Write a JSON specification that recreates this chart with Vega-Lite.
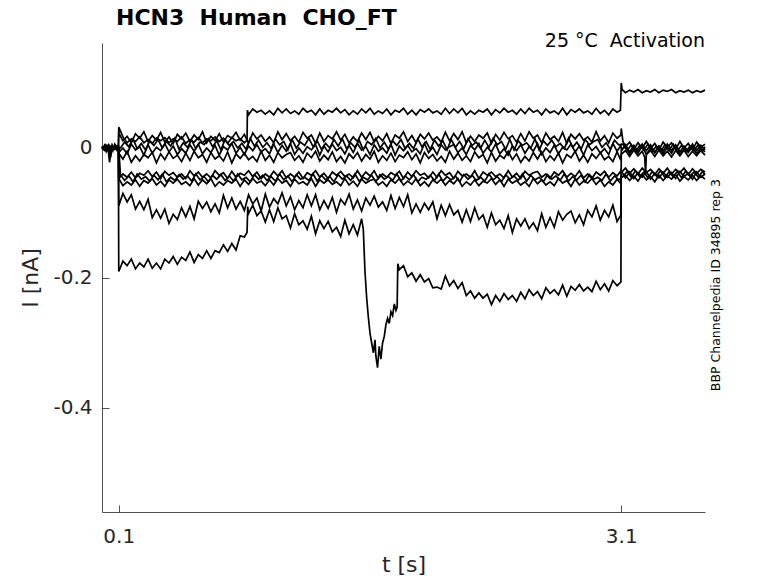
{
  "$schema": "https://vega.github.io/schema/vega-lite/v6.json",
  "width": 603,
  "height": 469,
  "autosize": {"type": "none"},
  "padding": {"left": 102, "top": 43, "right": 73, "bottom": 71},
  "background": "white",
  "title": {
    "text": "HCN3\u00a0 Human\u00a0 CHO_FT",
    "anchor": "start",
    "frame": "group",
    "dx": 14,
    "offset": 2,
    "baseline": "top",
    "font": "DejaVu Sans",
    "fontSize": 22,
    "fontWeight": "bold",
    "color": "#000000"
  },
  "datasets": {
    "a": [
      {"t":0,"v":0.002},{"t":0.02,"v":-0.004},{"t":0.04,"v":0.005},{"t":0.06,"v":-0.003},{"t":0.08,"v":0.004},{"t":0.098,"v":0.001},
      {"t":0.1,"v":0.032},{"t":0.125,"v":0.017},{"t":0.15,"v":0.008},{"t":0.175,"v":0.014},{"t":0.2,"v":0.010},{"t":0.225,"v":0.017},{"t":0.25,"v":0.008},{"t":0.275,"v":0.013},{"t":0.3,"v":0.007},{"t":0.325,"v":0.015},{"t":0.35,"v":0.011},{"t":0.375,"v":0.016},{"t":0.4,"v":0.008},{"t":0.425,"v":0.014},{"t":0.45,"v":0.010},{"t":0.475,"v":0.017},{"t":0.5,"v":0.007},{"t":0.525,"v":0.013},{"t":0.55,"v":0.009},{"t":0.575,"v":0.016},{"t":0.6,"v":0.008},{"t":0.625,"v":0.014},{"t":0.65,"v":0.011},{"t":0.675,"v":0.017},{"t":0.7,"v":0.010},{"t":0.725,"v":0.015},{"t":0.75,"v":0.007},{"t":0.775,"v":0.016},{"t":0.8,"v":0.011},{"t":0.825,"v":0.014},{"t":0.85,"v":0.008},{"t":0.866,"v":0.012},
      {"t":0.868,"v":0.058},{"t":0.875,"v":0.051},{"t":0.9,"v":0.060},{"t":0.925,"v":0.055},{"t":0.95,"v":0.058},{"t":0.975,"v":0.052},{"t":1.0,"v":0.057},{"t":1.025,"v":0.051},{"t":1.05,"v":0.061},{"t":1.075,"v":0.054},{"t":1.1,"v":0.060},{"t":1.125,"v":0.053},{"t":1.15,"v":0.057},{"t":1.175,"v":0.052},{"t":1.2,"v":0.061},{"t":1.225,"v":0.055},{"t":1.25,"v":0.058},{"t":1.275,"v":0.051},{"t":1.3,"v":0.060},{"t":1.325,"v":0.052},{"t":1.35,"v":0.058},{"t":1.375,"v":0.055},{"t":1.4,"v":0.061},{"t":1.425,"v":0.054},{"t":1.45,"v":0.059},{"t":1.475,"v":0.051},{"t":1.5,"v":0.057},{"t":1.525,"v":0.052},{"t":1.55,"v":0.060},{"t":1.575,"v":0.054},{"t":1.6,"v":0.061},{"t":1.625,"v":0.052},{"t":1.65,"v":0.057},{"t":1.675,"v":0.053},{"t":1.7,"v":0.060},{"t":1.725,"v":0.051},{"t":1.75,"v":0.058},{"t":1.775,"v":0.055},{"t":1.8,"v":0.061},{"t":1.825,"v":0.052},{"t":1.85,"v":0.058},{"t":1.875,"v":0.051},{"t":1.9,"v":0.059},{"t":1.925,"v":0.055},{"t":1.95,"v":0.060},{"t":1.975,"v":0.054},{"t":2.0,"v":0.057},{"t":2.025,"v":0.052},{"t":2.05,"v":0.061},{"t":2.075,"v":0.053},{"t":2.1,"v":0.060},{"t":2.125,"v":0.054},{"t":2.15,"v":0.061},{"t":2.175,"v":0.051},{"t":2.2,"v":0.057},{"t":2.225,"v":0.052},{"t":2.25,"v":0.058},{"t":2.275,"v":0.055},{"t":2.3,"v":0.060},{"t":2.325,"v":0.051},{"t":2.35,"v":0.059},{"t":2.375,"v":0.054},{"t":2.4,"v":0.061},{"t":2.425,"v":0.055},{"t":2.45,"v":0.058},{"t":2.475,"v":0.052},{"t":2.5,"v":0.060},{"t":2.525,"v":0.053},{"t":2.55,"v":0.061},{"t":2.575,"v":0.055},{"t":2.6,"v":0.058},{"t":2.625,"v":0.051},{"t":2.65,"v":0.060},{"t":2.675,"v":0.054},{"t":2.7,"v":0.057},{"t":2.725,"v":0.052},{"t":2.75,"v":0.061},{"t":2.775,"v":0.051},{"t":2.8,"v":0.059},{"t":2.825,"v":0.055},{"t":2.85,"v":0.060},{"t":2.875,"v":0.054},{"t":2.9,"v":0.057},{"t":2.925,"v":0.052},{"t":2.95,"v":0.061},{"t":2.975,"v":0.053},{"t":3.0,"v":0.058},{"t":3.025,"v":0.051},{"t":3.05,"v":0.060},{"t":3.075,"v":0.055},{"t":3.095,"v":0.058},
      {"t":3.1,"v":0.1},{"t":3.105,"v":0.09},{"t":3.125,"v":0.085},{"t":3.15,"v":0.089},{"t":3.175,"v":0.086},{"t":3.2,"v":0.09},{"t":3.225,"v":0.085},{"t":3.25,"v":0.088},{"t":3.275,"v":0.086},{"t":3.3,"v":0.09},{"t":3.325,"v":0.085},{"t":3.35,"v":0.089},{"t":3.375,"v":0.087},{"t":3.4,"v":0.09},{"t":3.425,"v":0.085},{"t":3.45,"v":0.088},{"t":3.475,"v":0.086},{"t":3.5,"v":0.089},{"t":3.525,"v":0.085},{"t":3.55,"v":0.088},{"t":3.575,"v":0.086},{"t":3.6,"v":0.089}
    ],
    "b": [
      {"t":0,"v":0.003},{"t":0.01,"v":-0.002},{"t":0.02,"v":0.004},{"t":0.03,"v":-0.003},{"t":0.04,"v":0.002},{"t":0.05,"v":-0.004},{"t":0.06,"v":0.005},{"t":0.07,"v":-0.001},{"t":0.08,"v":0.004},{"t":0.09,"v":-0.003},{"t":0.098,"v":0.001},
      {"t":0.1,"v":0.023},{"t":0.125,"v":0.011},{"t":0.15,"v":0.018},{"t":0.175,"v":0.008},{"t":0.2,"v":0.022},{"t":0.225,"v":0.015},{"t":0.25,"v":0.025},{"t":0.275,"v":0.010},{"t":0.3,"v":0.019},{"t":0.325,"v":0.012},{"t":0.35,"v":0.024},{"t":0.375,"v":0.009},{"t":0.4,"v":0.017},{"t":0.425,"v":0.007},{"t":0.45,"v":0.021},{"t":0.475,"v":0.014},{"t":0.5,"v":0.023},{"t":0.525,"v":0.010},{"t":0.55,"v":0.020},{"t":0.575,"v":0.013},{"t":0.6,"v":0.025},{"t":0.625,"v":0.008},{"t":0.65,"v":0.018},{"t":0.675,"v":0.011},{"t":0.7,"v":0.022},{"t":0.725,"v":0.009},{"t":0.75,"v":0.019},{"t":0.775,"v":0.015},{"t":0.8,"v":0.024},{"t":0.825,"v":0.012},{"t":0.85,"v":0.021},{"t":0.875,"v":0.007},{"t":0.9,"v":0.023},{"t":0.925,"v":0.014},{"t":0.95,"v":0.020},{"t":0.975,"v":0.010},{"t":1.0,"v":0.017},{"t":1.025,"v":0.008},{"t":1.05,"v":0.025},{"t":1.075,"v":0.013},{"t":1.1,"v":0.022},{"t":1.125,"v":0.011},{"t":1.15,"v":0.018},{"t":1.175,"v":0.009},{"t":1.2,"v":0.024},{"t":1.225,"v":0.015},{"t":1.25,"v":0.020},{"t":1.275,"v":0.007},{"t":1.3,"v":0.023},{"t":1.325,"v":0.010},{"t":1.35,"v":0.019},{"t":1.375,"v":0.014},{"t":1.4,"v":0.025},{"t":1.425,"v":0.012},{"t":1.45,"v":0.021},{"t":1.475,"v":0.008},{"t":1.5,"v":0.017},{"t":1.525,"v":0.010},{"t":1.55,"v":0.023},{"t":1.575,"v":0.013},{"t":1.6,"v":0.024},{"t":1.625,"v":0.009},{"t":1.65,"v":0.018},{"t":1.675,"v":0.011},{"t":1.7,"v":0.022},{"t":1.725,"v":0.007},{"t":1.75,"v":0.020},{"t":1.775,"v":0.015},{"t":1.8,"v":0.025},{"t":1.825,"v":0.010},{"t":1.85,"v":0.019},{"t":1.875,"v":0.008},{"t":1.9,"v":0.021},{"t":1.925,"v":0.014},{"t":1.95,"v":0.023},{"t":1.975,"v":0.012},{"t":2.0,"v":0.017},{"t":2.025,"v":0.009},{"t":2.05,"v":0.024},{"t":2.075,"v":0.011},{"t":2.1,"v":0.022},{"t":2.125,"v":0.013},{"t":2.15,"v":0.025},{"t":2.175,"v":0.008},{"t":2.2,"v":0.018},{"t":2.225,"v":0.010},{"t":2.25,"v":0.020},{"t":2.275,"v":0.015},{"t":2.3,"v":0.023},{"t":2.325,"v":0.007},{"t":2.35,"v":0.021},{"t":2.375,"v":0.012},{"t":2.4,"v":0.024},{"t":2.425,"v":0.014},{"t":2.45,"v":0.019},{"t":2.475,"v":0.009},{"t":2.5,"v":0.022},{"t":2.525,"v":0.011},{"t":2.55,"v":0.025},{"t":2.575,"v":0.015},{"t":2.6,"v":0.020},{"t":2.625,"v":0.008},{"t":2.65,"v":0.023},{"t":2.675,"v":0.013},{"t":2.7,"v":0.018},{"t":2.725,"v":0.010},{"t":2.75,"v":0.024},{"t":2.775,"v":0.007},{"t":2.8,"v":0.021},{"t":2.825,"v":0.014},{"t":2.85,"v":0.022},{"t":2.875,"v":0.012},{"t":2.9,"v":0.017},{"t":2.925,"v":0.009},{"t":2.95,"v":0.025},{"t":2.975,"v":0.011},{"t":3.0,"v":0.019},{"t":3.025,"v":0.008},{"t":3.05,"v":0.023},{"t":3.075,"v":0.015},{"t":3.098,"v":0.020},
      {"t":3.1,"v":0.03},{"t":3.11,"v":0.01},{"t":3.125,"v":0.002},{"t":3.15,"v":0.009},{"t":3.175,"v":-0.002},{"t":3.2,"v":0.008},{"t":3.225,"v":0.0},{"t":3.25,"v":0.01},{"t":3.275,"v":-0.001},{"t":3.3,"v":0.007},{"t":3.325,"v":-0.003},{"t":3.35,"v":0.009},{"t":3.375,"v":0.001},{"t":3.4,"v":0.008},{"t":3.425,"v":-0.002},{"t":3.45,"v":0.01},{"t":3.475,"v":0.0},{"t":3.5,"v":0.007},{"t":3.525,"v":-0.003},{"t":3.55,"v":0.009},{"t":3.575,"v":0.001},{"t":3.6,"v":0.006}
    ],
    "c": [
      {"t":0,"v":-0.002},{"t":0.015,"v":0.004},{"t":0.025,"v":-0.005},{"t":0.035,"v":0.003},{"t":0.045,"v":-0.022},{"t":0.05,"v":-0.012},{"t":0.055,"v":0.001},{"t":0.065,"v":-0.004},{"t":0.075,"v":0.005},{"t":0.085,"v":-0.002},{"t":0.095,"v":0.003},{"t":0.099,"v":0.0},
      {"t":0.1,"v":-0.007},{"t":0.125,"v":0.000},{"t":0.15,"v":-0.009},{"t":0.175,"v":0.006},{"t":0.2,"v":-0.003},{"t":0.225,"v":0.002},{"t":0.25,"v":-0.011},{"t":0.275,"v":0.005},{"t":0.3,"v":-0.008},{"t":0.325,"v":0.001},{"t":0.35,"v":-0.004},{"t":0.375,"v":0.007},{"t":0.4,"v":-0.006},{"t":0.425,"v":0.003},{"t":0.45,"v":-0.010},{"t":0.475,"v":-0.001},{"t":0.5,"v":-0.008},{"t":0.525,"v":0.005},{"t":0.55,"v":-0.005},{"t":0.575,"v":0.006},{"t":0.6,"v":-0.009},{"t":0.625,"v":0.000},{"t":0.65,"v":-0.007},{"t":0.675,"v":0.004},{"t":0.7,"v":-0.011},{"t":0.725,"v":0.002},{"t":0.75,"v":-0.003},{"t":0.775,"v":0.007},{"t":0.8,"v":-0.008},{"t":0.825,"v":0.001},{"t":0.85,"v":-0.010},{"t":0.875,"v":0.003},{"t":0.9,"v":-0.004},{"t":0.925,"v":0.005},{"t":0.95,"v":-0.006},{"t":0.975,"v":-0.001},{"t":1.0,"v":-0.009},{"t":1.025,"v":0.006},{"t":1.05,"v":-0.007},{"t":1.075,"v":0.004},{"t":1.1,"v":-0.005},{"t":1.125,"v":0.007},{"t":1.15,"v":-0.010},{"t":1.175,"v":0.000},{"t":1.2,"v":-0.008},{"t":1.225,"v":0.002},{"t":1.25,"v":-0.003},{"t":1.275,"v":0.005},{"t":1.3,"v":-0.011},{"t":1.325,"v":0.003},{"t":1.35,"v":-0.006},{"t":1.375,"v":0.006},{"t":1.4,"v":-0.004},{"t":1.425,"v":0.001},{"t":1.45,"v":-0.009},{"t":1.475,"v":0.004},{"t":1.5,"v":-0.007},{"t":1.525,"v":0.007},{"t":1.55,"v":-0.003},{"t":1.575,"v":0.002},{"t":1.6,"v":-0.010},{"t":1.625,"v":0.005},{"t":1.65,"v":-0.005},{"t":1.675,"v":0.000},{"t":1.7,"v":-0.008},{"t":1.725,"v":0.006},{"t":1.75,"v":-0.011},{"t":1.775,"v":0.003},{"t":1.8,"v":-0.004},{"t":1.825,"v":0.004},{"t":1.85,"v":-0.006},{"t":1.875,"v":-0.001},{"t":1.9,"v":-0.009},{"t":1.925,"v":0.007},{"t":1.95,"v":-0.007},{"t":1.975,"v":0.001},{"t":2.0,"v":-0.010},{"t":2.025,"v":0.005},{"t":2.05,"v":-0.003},{"t":2.075,"v":0.002},{"t":2.1,"v":0.005},{"t":2.125,"v":-0.007},{"t":2.15,"v":0.000},{"t":2.175,"v":-0.010},{"t":2.2,"v":0.004},{"t":2.225,"v":-0.003},{"t":2.25,"v":0.007},{"t":2.275,"v":-0.008},{"t":2.3,"v":0.001},{"t":2.325,"v":-0.006},{"t":2.35,"v":0.006},{"t":2.375,"v":-0.009},{"t":2.4,"v":-0.001},{"t":2.425,"v":-0.011},{"t":2.45,"v":0.003},{"t":2.475,"v":-0.004},{"t":2.5,"v":0.005},{"t":2.525,"v":-0.008},{"t":2.55,"v":0.002},{"t":2.575,"v":-0.005},{"t":2.6,"v":0.007},{"t":2.625,"v":-0.010},{"t":2.65,"v":0.000},{"t":2.675,"v":-0.007},{"t":2.7,"v":0.004},{"t":2.725,"v":-0.009},{"t":2.75,"v":0.001},{"t":2.775,"v":-0.003},{"t":2.8,"v":0.006},{"t":2.825,"v":-0.006},{"t":2.85,"v":0.003},{"t":2.875,"v":-0.011},{"t":2.9,"v":0.005},{"t":2.925,"v":-0.004},{"t":2.95,"v":0.002},{"t":2.975,"v":-0.008},{"t":3.0,"v":-0.001},{"t":3.025,"v":-0.010},{"t":3.05,"v":0.007},{"t":3.075,"v":-0.005},{"t":3.098,"v":0.004},
      {"t":3.1,"v":-0.002},{"t":3.125,"v":0.002},{"t":3.15,"v":-0.009},{"t":3.175,"v":0.001},{"t":3.2,"v":-0.008},{"t":3.225,"v":0.003},{"t":3.25,"v":-0.01},{"t":3.275,"v":0.0},{"t":3.3,"v":-0.007},{"t":3.325,"v":0.002},{"t":3.35,"v":-0.009},{"t":3.375,"v":0.001},{"t":3.4,"v":-0.008},{"t":3.425,"v":0.003},{"t":3.45,"v":-0.01},{"t":3.475,"v":-0.001},{"t":3.5,"v":-0.007},{"t":3.525,"v":0.002},{"t":3.55,"v":-0.009},{"t":3.575,"v":0.0},{"t":3.6,"v":-0.006}
    ],
    "d": [
      {"t":0,"v":0.001},{"t":0.02,"v":-0.003},{"t":0.04,"v":0.003},{"t":0.06,"v":-0.002},{"t":0.08,"v":0.002},{"t":0.098,"v":-0.001},
      {"t":0.1,"v":-0.008},{"t":0.125,"v":-0.017},{"t":0.15,"v":-0.005},{"t":0.175,"v":-0.022},{"t":0.2,"v":-0.012},{"t":0.225,"v":-0.020},{"t":0.25,"v":-0.010},{"t":0.275,"v":-0.015},{"t":0.3,"v":-0.007},{"t":0.325,"v":-0.023},{"t":0.35,"v":-0.009},{"t":0.375,"v":-0.018},{"t":0.4,"v":-0.006},{"t":0.425,"v":-0.016},{"t":0.45,"v":-0.011},{"t":0.475,"v":-0.021},{"t":0.5,"v":-0.008},{"t":0.525,"v":-0.019},{"t":0.55,"v":-0.005},{"t":0.575,"v":-0.015},{"t":0.6,"v":-0.010},{"t":0.625,"v":-0.022},{"t":0.65,"v":-0.007},{"t":0.675,"v":-0.017},{"t":0.7,"v":-0.012},{"t":0.725,"v":-0.020},{"t":0.75,"v":-0.006},{"t":0.775,"v":-0.023},{"t":0.8,"v":-0.009},{"t":0.825,"v":-0.016},{"t":0.85,"v":-0.008},{"t":0.875,"v":-0.018},{"t":0.9,"v":-0.013},{"t":0.925,"v":-0.021},{"t":0.95,"v":-0.005},{"t":0.975,"v":-0.019},{"t":1.0,"v":-0.011},{"t":1.025,"v":-0.022},{"t":1.05,"v":-0.007},{"t":1.075,"v":-0.015},{"t":1.1,"v":-0.010},{"t":1.125,"v":-0.007},{"t":1.15,"v":-0.019},{"t":1.175,"v":-0.012},{"t":1.2,"v":-0.022},{"t":1.225,"v":-0.008},{"t":1.25,"v":-0.015},{"t":1.275,"v":-0.005},{"t":1.3,"v":-0.020},{"t":1.325,"v":-0.011},{"t":1.35,"v":-0.018},{"t":1.375,"v":-0.006},{"t":1.4,"v":-0.021},{"t":1.425,"v":-0.013},{"t":1.45,"v":-0.023},{"t":1.475,"v":-0.009},{"t":1.5,"v":-0.016},{"t":1.525,"v":-0.007},{"t":1.55,"v":-0.020},{"t":1.575,"v":-0.010},{"t":1.6,"v":-0.017},{"t":1.625,"v":-0.005},{"t":1.65,"v":-0.022},{"t":1.675,"v":-0.012},{"t":1.7,"v":-0.019},{"t":1.725,"v":-0.008},{"t":1.75,"v":-0.021},{"t":1.775,"v":-0.011},{"t":1.8,"v":-0.015},{"t":1.825,"v":-0.006},{"t":1.85,"v":-0.018},{"t":1.875,"v":-0.009},{"t":1.9,"v":-0.023},{"t":1.925,"v":-0.007},{"t":1.95,"v":-0.016},{"t":1.975,"v":-0.010},{"t":2.0,"v":-0.020},{"t":2.025,"v":-0.013},{"t":2.05,"v":-0.022},{"t":2.075,"v":-0.005},{"t":2.1,"v":-0.017},{"t":2.125,"v":-0.008},{"t":2.15,"v":-0.019},{"t":2.175,"v":-0.012},{"t":2.2,"v":-0.021},{"t":2.225,"v":-0.006},{"t":2.25,"v":-0.015},{"t":2.275,"v":-0.010},{"t":2.3,"v":-0.023},{"t":2.325,"v":-0.007},{"t":2.35,"v":-0.020},{"t":2.375,"v":-0.011},{"t":2.4,"v":-0.016},{"t":2.425,"v":-0.005},{"t":2.45,"v":-0.018},{"t":2.475,"v":-0.009},{"t":2.5,"v":-0.022},{"t":2.525,"v":-0.013},{"t":2.55,"v":-0.020},{"t":2.575,"v":-0.007},{"t":2.6,"v":-0.017},{"t":2.625,"v":-0.006},{"t":2.65,"v":-0.021},{"t":2.675,"v":-0.012},{"t":2.7,"v":-0.019},{"t":2.725,"v":-0.008},{"t":2.75,"v":-0.023},{"t":2.775,"v":-0.010},{"t":2.8,"v":-0.015},{"t":2.825,"v":-0.005},{"t":2.85,"v":-0.020},{"t":2.875,"v":-0.011},{"t":2.9,"v":-0.022},{"t":2.925,"v":-0.009},{"t":2.95,"v":-0.016},{"t":2.975,"v":-0.007},{"t":3.0,"v":-0.018},{"t":3.025,"v":-0.013},{"t":3.05,"v":-0.021},{"t":3.075,"v":-0.006},{"t":3.098,"v":-0.019},
      {"t":3.1,"v":-0.01},{"t":3.125,"v":-0.004},{"t":3.15,"v":-0.013},{"t":3.175,"v":-0.003},{"t":3.2,"v":-0.012},{"t":3.225,"v":-0.005},{"t":3.24,"v":-0.014},{"t":3.245,"v":-0.04},{"t":3.25,"v":-0.01},{"t":3.275,"v":-0.004},{"t":3.3,"v":-0.013},{"t":3.325,"v":-0.003},{"t":3.35,"v":-0.012},{"t":3.375,"v":-0.005},{"t":3.4,"v":-0.014},{"t":3.425,"v":-0.004},{"t":3.45,"v":-0.012},{"t":3.475,"v":-0.003},{"t":3.5,"v":-0.013},{"t":3.525,"v":-0.005},{"t":3.55,"v":-0.012},{"t":3.575,"v":-0.004},{"t":3.6,"v":-0.011}
    ],
    "e": [
      {"t":0,"v":-0.001},{"t":0.03,"v":0.003},{"t":0.06,"v":-0.003},{"t":0.09,"v":0.002},{"t":0.099,"v":0.0},
      {"t":0.1,"v":-0.047},{"t":0.125,"v":-0.040},{"t":0.15,"v":-0.045},{"t":0.175,"v":-0.037},{"t":0.2,"v":-0.046},{"t":0.225,"v":-0.039},{"t":0.25,"v":-0.042},{"t":0.275,"v":-0.035},{"t":0.3,"v":-0.044},{"t":0.325,"v":-0.037},{"t":0.35,"v":-0.047},{"t":0.375,"v":-0.036},{"t":0.4,"v":-0.042},{"t":0.425,"v":-0.038},{"t":0.45,"v":-0.045},{"t":0.475,"v":-0.040},{"t":0.5,"v":-0.047},{"t":0.525,"v":-0.035},{"t":0.55,"v":-0.043},{"t":0.575,"v":-0.037},{"t":0.6,"v":-0.045},{"t":0.625,"v":-0.040},{"t":0.65,"v":-0.046},{"t":0.675,"v":-0.035},{"t":0.7,"v":-0.042},{"t":0.725,"v":-0.038},{"t":0.75,"v":-0.047},{"t":0.775,"v":-0.036},{"t":0.8,"v":-0.045},{"t":0.825,"v":-0.039},{"t":0.85,"v":-0.042},{"t":0.875,"v":-0.035},{"t":0.9,"v":-0.044},{"t":0.925,"v":-0.037},{"t":0.95,"v":-0.047},{"t":0.975,"v":-0.040},{"t":1.0,"v":-0.045},{"t":1.025,"v":-0.036},{"t":1.05,"v":-0.043},{"t":1.075,"v":-0.035},{"t":1.1,"v":-0.046},{"t":1.125,"v":-0.040},{"t":1.15,"v":-0.045},{"t":1.175,"v":-0.037},{"t":1.2,"v":-0.047},{"t":1.225,"v":-0.038},{"t":1.25,"v":-0.042},{"t":1.275,"v":-0.035},{"t":1.3,"v":-0.045},{"t":1.325,"v":-0.039},{"t":1.35,"v":-0.047},{"t":1.375,"v":-0.037},{"t":1.4,"v":-0.042},{"t":1.425,"v":-0.036},{"t":1.45,"v":-0.044},{"t":1.475,"v":-0.040},{"t":1.5,"v":-0.046},{"t":1.525,"v":-0.035},{"t":1.55,"v":-0.045},{"t":1.575,"v":-0.037},{"t":1.6,"v":-0.043},{"t":1.625,"v":-0.035},{"t":1.65,"v":-0.047},{"t":1.675,"v":-0.040},{"t":1.7,"v":-0.045},{"t":1.725,"v":-0.038},{"t":1.75,"v":-0.042},{"t":1.775,"v":-0.036},{"t":1.8,"v":-0.047},{"t":1.825,"v":-0.037},{"t":1.85,"v":-0.044},{"t":1.875,"v":-0.035},{"t":1.9,"v":-0.042},{"t":1.925,"v":-0.039},{"t":1.95,"v":-0.046},{"t":1.975,"v":-0.037},{"t":2.0,"v":-0.045},{"t":2.025,"v":-0.035},{"t":2.05,"v":-0.042},{"t":2.075,"v":-0.038},{"t":2.1,"v":-0.047},{"t":2.125,"v":-0.036},{"t":2.15,"v":-0.043},{"t":2.175,"v":-0.040},{"t":2.2,"v":-0.045},{"t":2.225,"v":-0.035},{"t":2.25,"v":-0.047},{"t":2.275,"v":-0.037},{"t":2.3,"v":-0.042},{"t":2.325,"v":-0.037},{"t":2.35,"v":-0.044},{"t":2.375,"v":-0.040},{"t":2.4,"v":-0.046},{"t":2.425,"v":-0.035},{"t":2.45,"v":-0.045},{"t":2.475,"v":-0.039},{"t":2.5,"v":-0.047},{"t":2.525,"v":-0.036},{"t":2.55,"v":-0.042},{"t":2.575,"v":-0.038},{"t":2.6,"v":-0.036},{"t":2.625,"v":-0.045},{"t":2.65,"v":-0.040},{"t":2.675,"v":-0.047},{"t":2.7,"v":-0.037},{"t":2.725,"v":-0.042},{"t":2.75,"v":-0.035},{"t":2.775,"v":-0.045},{"t":2.8,"v":-0.039},{"t":2.825,"v":-0.044},{"t":2.85,"v":-0.035},{"t":2.875,"v":-0.046},{"t":2.9,"v":-0.040},{"t":2.925,"v":-0.047},{"t":2.95,"v":-0.037},{"t":2.975,"v":-0.042},{"t":3.0,"v":-0.036},{"t":3.025,"v":-0.045},{"t":3.05,"v":-0.038},{"t":3.075,"v":-0.043},{"t":3.098,"v":-0.035},
      {"t":3.1,"v":-0.038},{"t":3.125,"v":-0.031},{"t":3.15,"v":-0.039},{"t":3.175,"v":-0.032},{"t":3.2,"v":-0.04},{"t":3.225,"v":-0.031},{"t":3.25,"v":-0.038},{"t":3.275,"v":-0.033},{"t":3.3,"v":-0.041},{"t":3.325,"v":-0.032},{"t":3.35,"v":-0.039},{"t":3.375,"v":-0.031},{"t":3.4,"v":-0.04},{"t":3.425,"v":-0.033},{"t":3.45,"v":-0.038},{"t":3.475,"v":-0.031},{"t":3.5,"v":-0.041},{"t":3.525,"v":-0.032},{"t":3.55,"v":-0.039},{"t":3.575,"v":-0.033},{"t":3.6,"v":-0.037}
    ],
    "f": [
      {"t":0,"v":0.002},{"t":0.03,"v":-0.003},{"t":0.06,"v":0.002},{"t":0.09,"v":-0.002},{"t":0.098,"v":0.001},
      {"t":0.1,"v":-0.047},{"t":0.125,"v":-0.058},{"t":0.15,"v":-0.052},{"t":0.175,"v":-0.057},{"t":0.2,"v":-0.049},{"t":0.225,"v":-0.059},{"t":0.25,"v":-0.050},{"t":0.275,"v":-0.054},{"t":0.3,"v":-0.047},{"t":0.325,"v":-0.057},{"t":0.35,"v":-0.051},{"t":0.375,"v":-0.059},{"t":0.4,"v":-0.049},{"t":0.425,"v":-0.054},{"t":0.45,"v":-0.048},{"t":0.475,"v":-0.056},{"t":0.5,"v":-0.052},{"t":0.525,"v":-0.058},{"t":0.55,"v":-0.047},{"t":0.575,"v":-0.057},{"t":0.6,"v":-0.049},{"t":0.625,"v":-0.055},{"t":0.65,"v":-0.047},{"t":0.675,"v":-0.059},{"t":0.7,"v":-0.052},{"t":0.725,"v":-0.057},{"t":0.75,"v":-0.050},{"t":0.775,"v":-0.054},{"t":0.8,"v":-0.048},{"t":0.825,"v":-0.059},{"t":0.85,"v":-0.049},{"t":0.875,"v":-0.056},{"t":0.9,"v":-0.047},{"t":0.925,"v":-0.054},{"t":0.95,"v":-0.051},{"t":0.975,"v":-0.058},{"t":1.0,"v":-0.049},{"t":1.025,"v":-0.057},{"t":1.05,"v":-0.047},{"t":1.075,"v":-0.054},{"t":1.1,"v":-0.050},{"t":1.125,"v":-0.059},{"t":1.15,"v":-0.048},{"t":1.175,"v":-0.055},{"t":1.2,"v":-0.052},{"t":1.225,"v":-0.057},{"t":1.25,"v":-0.047},{"t":1.275,"v":-0.059},{"t":1.3,"v":-0.049},{"t":1.325,"v":-0.054},{"t":1.35,"v":-0.049},{"t":1.375,"v":-0.056},{"t":1.4,"v":-0.052},{"t":1.425,"v":-0.058},{"t":1.45,"v":-0.047},{"t":1.475,"v":-0.057},{"t":1.5,"v":-0.051},{"t":1.525,"v":-0.059},{"t":1.55,"v":-0.048},{"t":1.575,"v":-0.054},{"t":1.6,"v":-0.050},{"t":1.625,"v":-0.048},{"t":1.65,"v":-0.057},{"t":1.675,"v":-0.052},{"t":1.7,"v":-0.059},{"t":1.725,"v":-0.049},{"t":1.75,"v":-0.054},{"t":1.775,"v":-0.047},{"t":1.8,"v":-0.057},{"t":1.825,"v":-0.051},{"t":1.85,"v":-0.056},{"t":1.875,"v":-0.047},{"t":1.9,"v":-0.058},{"t":1.925,"v":-0.052},{"t":1.95,"v":-0.059},{"t":1.975,"v":-0.049},{"t":2.0,"v":-0.054},{"t":2.025,"v":-0.048},{"t":2.05,"v":-0.057},{"t":2.075,"v":-0.050},{"t":2.1,"v":-0.055},{"t":2.125,"v":-0.047},{"t":2.15,"v":-0.059},{"t":2.175,"v":-0.052},{"t":2.2,"v":-0.057},{"t":2.225,"v":-0.049},{"t":2.25,"v":-0.058},{"t":2.275,"v":-0.051},{"t":2.3,"v":-0.054},{"t":2.325,"v":-0.047},{"t":2.35,"v":-0.056},{"t":2.375,"v":-0.049},{"t":2.4,"v":-0.059},{"t":2.425,"v":-0.048},{"t":2.45,"v":-0.054},{"t":2.475,"v":-0.050},{"t":2.5,"v":-0.057},{"t":2.525,"v":-0.052},{"t":2.55,"v":-0.059},{"t":2.575,"v":-0.047},{"t":2.6,"v":-0.055},{"t":2.625,"v":-0.049},{"t":2.65,"v":-0.057},{"t":2.675,"v":-0.052},{"t":2.7,"v":-0.058},{"t":2.725,"v":-0.047},{"t":2.75,"v":-0.054},{"t":2.775,"v":-0.050},{"t":2.8,"v":-0.059},{"t":2.825,"v":-0.048},{"t":2.85,"v":-0.057},{"t":2.875,"v":-0.051},{"t":2.9,"v":-0.054},{"t":2.925,"v":-0.047},{"t":2.95,"v":-0.056},{"t":2.975,"v":-0.049},{"t":3.0,"v":-0.059},{"t":3.025,"v":-0.052},{"t":3.05,"v":-0.057},{"t":3.075,"v":-0.048},{"t":3.098,"v":-0.055},
      {"t":3.1,"v":-0.045},{"t":3.125,"v":-0.042},{"t":3.15,"v":-0.05},{"t":3.175,"v":-0.043},{"t":3.2,"v":-0.051},{"t":3.225,"v":-0.041},{"t":3.25,"v":-0.049},{"t":3.275,"v":-0.044},{"t":3.3,"v":-0.052},{"t":3.325,"v":-0.042},{"t":3.35,"v":-0.05},{"t":3.375,"v":-0.043},{"t":3.4,"v":-0.048},{"t":3.425,"v":-0.041},{"t":3.45,"v":-0.051},{"t":3.475,"v":-0.044},{"t":3.5,"v":-0.049},{"t":3.525,"v":-0.042},{"t":3.55,"v":-0.05},{"t":3.575,"v":-0.043},{"t":3.6,"v":-0.048}
    ],
    "g": [
      {"t":0,"v":0.0},{"t":0.025,"v":0.003},{"t":0.05,"v":-0.004},{"t":0.075,"v":0.002},{"t":0.098,"v":-0.002},
      {"t":0.1,"v":-0.089},{"t":0.125,"v":-0.070},{"t":0.15,"v":-0.083},{"t":0.175,"v":-0.072},{"t":0.2,"v":-0.094},{"t":0.225,"v":-0.082},{"t":0.25,"v":-0.095},{"t":0.275,"v":-0.079},{"t":0.3,"v":-0.107},{"t":0.325,"v":-0.095},{"t":0.35,"v":-0.108},{"t":0.375,"v":-0.094},{"t":0.4,"v":-0.116},{"t":0.425,"v":-0.102},{"t":0.45,"v":-0.110},{"t":0.475,"v":-0.092},{"t":0.5,"v":-0.106},{"t":0.525,"v":-0.090},{"t":0.55,"v":-0.109},{"t":0.575,"v":-0.082},{"t":0.6,"v":-0.093},{"t":0.625,"v":-0.083},{"t":0.65,"v":-0.098},{"t":0.675,"v":-0.086},{"t":0.7,"v":-0.100},{"t":0.725,"v":-0.073},{"t":0.75,"v":-0.092},{"t":0.775,"v":-0.077},{"t":0.8,"v":-0.094},{"t":0.825,"v":-0.082},{"t":0.85,"v":-0.096},{"t":0.875,"v":-0.072},{"t":0.9,"v":-0.086},{"t":0.925,"v":-0.077},{"t":0.95,"v":-0.097},{"t":0.975,"v":-0.071},{"t":1.0,"v":-0.091},{"t":1.025,"v":-0.078},{"t":1.05,"v":-0.086},{"t":1.075,"v":-0.069},{"t":1.1,"v":-0.089},{"t":1.125,"v":-0.075},{"t":1.15,"v":-0.095},{"t":1.175,"v":-0.081},{"t":1.2,"v":-0.092},{"t":1.225,"v":-0.072},{"t":1.25,"v":-0.089},{"t":1.275,"v":-0.072},{"t":1.3,"v":-0.095},{"t":1.325,"v":-0.081},{"t":1.35,"v":-0.093},{"t":1.375,"v":-0.076},{"t":1.4,"v":-0.099},{"t":1.425,"v":-0.079},{"t":1.45,"v":-0.087},{"t":1.475,"v":-0.071},{"t":1.5,"v":-0.094},{"t":1.525,"v":-0.080},{"t":1.55,"v":-0.097},{"t":1.575,"v":-0.077},{"t":1.6,"v":-0.088},{"t":1.625,"v":-0.074},{"t":1.65,"v":-0.091},{"t":1.675,"v":-0.083},{"t":1.7,"v":-0.096},{"t":1.725,"v":-0.073},{"t":1.75,"v":-0.093},{"t":1.775,"v":-0.076},{"t":1.8,"v":-0.090},{"t":1.825,"v":-0.072},{"t":1.85,"v":-0.100},{"t":1.875,"v":-0.086},{"t":1.9,"v":-0.099},{"t":1.925,"v":-0.085},{"t":1.95,"v":-0.095},{"t":1.975,"v":-0.083},{"t":2.0,"v":-0.109},{"t":2.025,"v":-0.088},{"t":2.05,"v":-0.104},{"t":2.075,"v":-0.087},{"t":2.1,"v":-0.103},{"t":2.125,"v":-0.096},{"t":2.15,"v":-0.114},{"t":2.175,"v":-0.095},{"t":2.2,"v":-0.113},{"t":2.225,"v":-0.092},{"t":2.25,"v":-0.110},{"t":2.275,"v":-0.103},{"t":2.3,"v":-0.122},{"t":2.325,"v":-0.100},{"t":2.35,"v":-0.118},{"t":2.375,"v":-0.111},{"t":2.4,"v":-0.124},{"t":2.425,"v":-0.104},{"t":2.45,"v":-0.130},{"t":2.475,"v":-0.109},{"t":2.5,"v":-0.120},{"t":2.525,"v":-0.109},{"t":2.55,"v":-0.124},{"t":2.575,"v":-0.115},{"t":2.6,"v":-0.127},{"t":2.625,"v":-0.101},{"t":2.65,"v":-0.122},{"t":2.675,"v":-0.107},{"t":2.7,"v":-0.122},{"t":2.725,"v":-0.098},{"t":2.75,"v":-0.111},{"t":2.775,"v":-0.102},{"t":2.8,"v":-0.097},{"t":2.825,"v":-0.115},{"t":2.85,"v":-0.103},{"t":2.875,"v":-0.118},{"t":2.9,"v":-0.096},{"t":2.925,"v":-0.106},{"t":2.95,"v":-0.089},{"t":2.975,"v":-0.111},{"t":3.0,"v":-0.096},{"t":3.025,"v":-0.106},{"t":3.05,"v":-0.088},{"t":3.075,"v":-0.113},{"t":3.098,"v":-0.103},
      {"t":3.1,"v":-0.035},{"t":3.125,"v":-0.046},{"t":3.15,"v":-0.037},{"t":3.175,"v":-0.047},{"t":3.2,"v":-0.038},{"t":3.225,"v":-0.045},{"t":3.25,"v":-0.036},{"t":3.275,"v":-0.048},{"t":3.3,"v":-0.039},{"t":3.325,"v":-0.046},{"t":3.35,"v":-0.037},{"t":3.375,"v":-0.045},{"t":3.4,"v":-0.038},{"t":3.425,"v":-0.047},{"t":3.45,"v":-0.036},{"t":3.475,"v":-0.044},{"t":3.5,"v":-0.039},{"t":3.525,"v":-0.048},{"t":3.55,"v":-0.037},{"t":3.575,"v":-0.045},{"t":3.6,"v":-0.04}
    ],
    "h": [
      {"t":0,"v":-0.001},{"t":0.025,"v":0.004},{"t":0.04,"v":-0.006},{"t":0.05,"v":-0.015},{"t":0.06,"v":-0.003},{"t":0.08,"v":0.003},{"t":0.098,"v":0.0},
      {"t":0.1,"v":-0.19},{"t":0.125,"v":-0.174},{"t":0.15,"v":-0.181},{"t":0.175,"v":-0.171},{"t":0.2,"v":-0.186},{"t":0.225,"v":-0.177},{"t":0.25,"v":-0.183},{"t":0.275,"v":-0.171},{"t":0.3,"v":-0.185},{"t":0.325,"v":-0.177},{"t":0.35,"v":-0.186},{"t":0.375,"v":-0.171},{"t":0.4,"v":-0.177},{"t":0.425,"v":-0.167},{"t":0.45,"v":-0.179},{"t":0.475,"v":-0.168},{"t":0.5,"v":-0.173},{"t":0.525,"v":-0.160},{"t":0.55,"v":-0.176},{"t":0.575,"v":-0.164},{"t":0.6,"v":-0.170},{"t":0.625,"v":-0.158},{"t":0.65,"v":-0.170},{"t":0.675,"v":-0.158},{"t":0.7,"v":-0.161},{"t":0.725,"v":-0.149},{"t":0.75,"v":-0.159},{"t":0.775,"v":-0.147},{"t":0.8,"v":-0.157},{"t":0.825,"v":-0.135},{"t":0.85,"v":-0.137},{"t":0.866,"v":-0.13},
      {"t":0.87,"v":-0.09},{"t":0.875,"v":-0.101},{"t":0.9,"v":-0.088},{"t":0.925,"v":-0.104},{"t":0.95,"v":-0.097},{"t":0.975,"v":-0.114},{"t":1.0,"v":-0.095},{"t":1.025,"v":-0.113},{"t":1.05,"v":-0.092},{"t":1.075,"v":-0.109},{"t":1.1,"v":-0.104},{"t":1.125,"v":-0.123},{"t":1.15,"v":-0.101},{"t":1.175,"v":-0.118},{"t":1.2,"v":-0.112},{"t":1.225,"v":-0.125},{"t":1.25,"v":-0.105},{"t":1.275,"v":-0.132},{"t":1.3,"v":-0.112},{"t":1.325,"v":-0.124},{"t":1.35,"v":-0.113},{"t":1.375,"v":-0.129},{"t":1.4,"v":-0.122},{"t":1.425,"v":-0.136},{"t":1.45,"v":-0.111},{"t":1.475,"v":-0.132},{"t":1.5,"v":-0.118},{"t":1.525,"v":-0.134},{"t":1.55,"v":-0.109},
      {"t":1.56,"v":-0.125},{"t":1.57,"v":-0.19},{"t":1.58,"v":-0.23},{"t":1.59,"v":-0.26},{"t":1.6,"v":-0.285},{"t":1.61,"v":-0.3},{"t":1.62,"v":-0.315},{"t":1.63,"v":-0.295},{"t":1.635,"v":-0.32},{"t":1.645,"v":-0.338},{"t":1.655,"v":-0.305},{"t":1.665,"v":-0.325},{"t":1.675,"v":-0.3},{"t":1.685,"v":-0.29},{"t":1.695,"v":-0.272},{"t":1.705,"v":-0.262},{"t":1.715,"v":-0.27},{"t":1.725,"v":-0.252},{"t":1.735,"v":-0.258},{"t":1.745,"v":-0.24},{"t":1.755,"v":-0.25},{"t":1.762,"v":-0.245},{"t":1.766,"v":-0.178},
      {"t":1.775,"v":-0.187},{"t":1.8,"v":-0.181},{"t":1.825,"v":-0.198},{"t":1.85,"v":-0.192},{"t":1.875,"v":-0.205},{"t":1.9,"v":-0.195},{"t":1.925,"v":-0.206},{"t":1.95,"v":-0.201},{"t":1.975,"v":-0.215},{"t":2.0,"v":-0.214},{"t":2.025,"v":-0.217},{"t":2.05,"v":-0.197},{"t":2.075,"v":-0.212},{"t":2.1,"v":-0.204},{"t":2.125,"v":-0.216},{"t":2.15,"v":-0.207},{"t":2.175,"v":-0.227},{"t":2.2,"v":-0.220},{"t":2.225,"v":-0.231},{"t":2.25,"v":-0.223},{"t":2.275,"v":-0.231},{"t":2.3,"v":-0.225},{"t":2.325,"v":-0.241},{"t":2.35,"v":-0.227},{"t":2.375,"v":-0.236},{"t":2.4,"v":-0.224},{"t":2.425,"v":-0.233},{"t":2.45,"v":-0.227},{"t":2.475,"v":-0.236},{"t":2.5,"v":-0.222},{"t":2.525,"v":-0.232},{"t":2.55,"v":-0.218},{"t":2.575,"v":-0.227},{"t":2.6,"v":-0.221},{"t":2.625,"v":-0.232},{"t":2.65,"v":-0.215},{"t":2.675,"v":-0.224},{"t":2.7,"v":-0.218},{"t":2.725,"v":-0.226},{"t":2.75,"v":-0.211},{"t":2.775,"v":-0.228},{"t":2.8,"v":-0.213},{"t":2.825,"v":-0.219},{"t":2.85,"v":-0.210},{"t":2.875,"v":-0.220},{"t":2.9,"v":-0.214},{"t":2.925,"v":-0.221},{"t":2.95,"v":-0.205},{"t":2.975,"v":-0.218},{"t":3.0,"v":-0.209},{"t":3.025,"v":-0.220},{"t":3.05,"v":-0.204},{"t":3.075,"v":-0.212},{"t":3.098,"v":-0.206},
      {"t":3.1,"v":-0.005},{"t":3.125,"v":0.005},{"t":3.15,"v":-0.006},{"t":3.175,"v":0.004},{"t":3.2,"v":-0.005},{"t":3.225,"v":0.006},{"t":3.25,"v":-0.004},{"t":3.275,"v":0.005},{"t":3.3,"v":-0.007},{"t":3.325,"v":0.003},{"t":3.35,"v":-0.005},{"t":3.375,"v":0.006},{"t":3.4,"v":-0.004},{"t":3.425,"v":0.005},{"t":3.45,"v":-0.006},{"t":3.475,"v":0.003},{"t":3.5,"v":-0.005},{"t":3.525,"v":0.006},{"t":3.55,"v":-0.004},{"t":3.575,"v":0.004},{"t":3.6,"v":-0.003}
    ],
    "i": [
      {"t":0.005,"v":0.002},{"t":0.015,"v":-0.003},{"t":0.03,"v":0.003},{"t":0.045,"v":-0.008},{"t":0.06,"v":0.002},{"t":0.075,"v":-0.002},{"t":0.09,"v":0.003},{"t":0.099,"v":0.0},
      {"t":0.11,"v":0.000},{"t":0.135,"v":0.009},{"t":0.16,"v":0.002},{"t":0.185,"v":0.014},{"t":0.21,"v":-0.001},{"t":0.235,"v":0.007},{"t":0.26,"v":-0.003},{"t":0.285,"v":0.011},{"t":0.31,"v":0.004},{"t":0.335,"v":0.013},{"t":0.36,"v":0.000},{"t":0.385,"v":0.010},{"t":0.41,"v":0.003},{"t":0.435,"v":0.015},{"t":0.46,"v":-0.002},{"t":0.485,"v":0.008},{"t":0.51,"v":0.001},{"t":0.535,"v":0.012},{"t":0.56,"v":-0.001},{"t":0.585,"v":0.009},{"t":0.61,"v":0.005},{"t":0.635,"v":0.014},{"t":0.66,"v":0.002},{"t":0.685,"v":0.011},{"t":0.71,"v":-0.003},{"t":0.735,"v":0.013},{"t":0.76,"v":0.004},{"t":0.785,"v":0.010},{"t":0.81,"v":0.000},{"t":0.835,"v":0.007},{"t":0.86,"v":-0.002},{"t":0.885,"v":0.015},{"t":0.91,"v":0.003},{"t":0.935,"v":0.012},{"t":0.96,"v":0.001},{"t":0.985,"v":0.008},{"t":1.01,"v":-0.001},{"t":1.035,"v":0.014},{"t":1.06,"v":0.005},{"t":1.085,"v":0.010},{"t":1.11,"v":-0.003},{"t":1.135,"v":0.013},{"t":1.16,"v":0.000},{"t":1.185,"v":0.009},{"t":1.21,"v":0.004},{"t":1.235,"v":0.015},{"t":1.26,"v":0.002},{"t":1.285,"v":0.011},{"t":1.31,"v":-0.002},{"t":1.335,"v":0.007},{"t":1.36,"v":0.000},{"t":1.385,"v":0.013},{"t":1.41,"v":0.003},{"t":1.435,"v":0.014},{"t":1.46,"v":-0.001},{"t":1.485,"v":0.008},{"t":1.51,"v":0.001},{"t":1.535,"v":0.012},{"t":1.56,"v":-0.003},{"t":1.585,"v":0.010},{"t":1.61,"v":0.005},{"t":1.635,"v":0.015},{"t":1.66,"v":0.000},{"t":1.685,"v":0.009},{"t":1.71,"v":-0.002},{"t":1.735,"v":0.011},{"t":1.76,"v":0.004},{"t":1.785,"v":0.013},{"t":1.81,"v":-0.001},{"t":1.835,"v":0.007},{"t":1.86,"v":-0.001},{"t":1.885,"v":0.014},{"t":1.91,"v":0.002},{"t":1.935,"v":0.010},{"t":1.96,"v":-0.002},{"t":1.985,"v":0.012},{"t":2.01,"v":0.003},{"t":2.035,"v":0.011},{"t":2.06,"v":-0.003},{"t":2.085,"v":0.013},{"t":2.11,"v":0.001},{"t":2.135,"v":0.010},{"t":2.16,"v":-0.001},{"t":2.185,"v":0.014},{"t":2.21,"v":0.004},{"t":2.235,"v":0.009},{"t":2.26,"v":-0.001},{"t":2.285,"v":0.012},{"t":2.31,"v":0.001},{"t":2.335,"v":0.015},{"t":2.36,"v":0.005},{"t":2.385,"v":0.010},{"t":2.41,"v":-0.002},{"t":2.435,"v":0.013},{"t":2.46,"v":-0.003},{"t":2.485,"v":0.011},{"t":2.51,"v":0.004},{"t":2.535,"v":0.008},{"t":2.56,"v":0.000},{"t":2.585,"v":0.014},{"t":2.61,"v":-0.003},{"t":2.635,"v":0.011},{"t":2.66,"v":0.004},{"t":2.685,"v":0.012},{"t":2.71,"v":0.002},{"t":2.735,"v":0.007},{"t":2.76,"v":-0.001},{"t":2.785,"v":0.015},{"t":2.81,"v":0.001},{"t":2.835,"v":0.009},{"t":2.86,"v":-0.002},{"t":2.885,"v":0.013},{"t":2.91,"v":0.005},{"t":2.935,"v":0.010},{"t":2.96,"v":0.013},{"t":2.985,"v":0.001},{"t":3.01,"v":0.008},{"t":3.035,"v":-0.002},{"t":3.06,"v":0.012},{"t":3.085,"v":0.005},
      {"t":3.11,"v":0.006},{"t":3.135,"v":-0.004},{"t":3.16,"v":0.005},{"t":3.185,"v":-0.006},{"t":3.21,"v":0.004},{"t":3.235,"v":-0.003},{"t":3.26,"v":0.006},{"t":3.285,"v":-0.005},{"t":3.31,"v":0.003},{"t":3.335,"v":-0.006},{"t":3.36,"v":0.005},{"t":3.385,"v":-0.004},{"t":3.41,"v":0.006},{"t":3.435,"v":-0.005},{"t":3.46,"v":0.004},{"t":3.485,"v":-0.006},{"t":3.51,"v":0.003},{"t":3.535,"v":-0.004},{"t":3.56,"v":0.005},{"t":3.585,"v":-0.005},{"t":3.6,"v":0.002}
    ],
    "j": [
      {"t":0.005,"v":-0.002},{"t":0.02,"v":0.003},{"t":0.035,"v":-0.003},{"t":0.05,"v":0.002},{"t":0.065,"v":-0.002},{"t":0.08,"v":0.003},{"t":0.095,"v":-0.001},{"t":0.1,"v":0.0},
      {"t":0.11,"v":-0.041},{"t":0.135,"v":-0.050},{"t":0.16,"v":-0.043},{"t":0.185,"v":-0.052},{"t":0.21,"v":-0.040},{"t":0.235,"v":-0.048},{"t":0.26,"v":-0.044},{"t":0.285,"v":-0.051},{"t":0.31,"v":-0.042},{"t":0.335,"v":-0.049},{"t":0.36,"v":-0.040},{"t":0.385,"v":-0.052},{"t":0.41,"v":-0.045},{"t":0.435,"v":-0.050},{"t":0.46,"v":-0.041},{"t":0.485,"v":-0.048},{"t":0.51,"v":-0.043},{"t":0.535,"v":-0.051},{"t":0.56,"v":-0.040},{"t":0.585,"v":-0.049},{"t":0.61,"v":-0.044},{"t":0.635,"v":-0.052},{"t":0.66,"v":-0.042},{"t":0.685,"v":-0.048},{"t":0.71,"v":-0.041},{"t":0.735,"v":-0.050},{"t":0.76,"v":-0.043},{"t":0.785,"v":-0.051},{"t":0.81,"v":-0.040},{"t":0.835,"v":-0.049},{"t":0.86,"v":-0.045},{"t":0.885,"v":-0.052},{"t":0.91,"v":-0.041},{"t":0.935,"v":-0.048},{"t":0.96,"v":-0.042},{"t":0.985,"v":-0.050},{"t":1.01,"v":-0.044},{"t":1.035,"v":-0.051},{"t":1.06,"v":-0.040},{"t":1.085,"v":-0.049},{"t":1.11,"v":-0.043},{"t":1.135,"v":-0.052},{"t":1.16,"v":-0.041},{"t":1.185,"v":-0.048},{"t":1.21,"v":-0.045},{"t":1.235,"v":-0.050},{"t":1.26,"v":-0.040},{"t":1.285,"v":-0.051},{"t":1.31,"v":-0.042},{"t":1.335,"v":-0.049},{"t":1.36,"v":-0.044},{"t":1.385,"v":-0.052},{"t":1.41,"v":-0.041},{"t":1.435,"v":-0.048},{"t":1.46,"v":-0.043},{"t":1.485,"v":-0.050},{"t":1.51,"v":-0.040},{"t":1.535,"v":-0.051},{"t":1.56,"v":-0.045},{"t":1.585,"v":-0.049},{"t":1.61,"v":-0.042},{"t":1.635,"v":-0.052},{"t":1.66,"v":-0.041},{"t":1.685,"v":-0.048},{"t":1.71,"v":-0.044},{"t":1.735,"v":-0.050},{"t":1.76,"v":-0.040},{"t":1.785,"v":-0.051},{"t":1.81,"v":-0.043},{"t":1.835,"v":-0.049},{"t":1.86,"v":-0.041},{"t":1.885,"v":-0.052},{"t":1.91,"v":-0.045},{"t":1.935,"v":-0.048},{"t":1.96,"v":-0.042},{"t":1.985,"v":-0.050},{"t":2.01,"v":-0.040},{"t":2.035,"v":-0.051},{"t":2.06,"v":-0.044},{"t":2.085,"v":-0.049},{"t":2.11,"v":-0.043},{"t":2.135,"v":-0.052},{"t":2.16,"v":-0.041},{"t":2.185,"v":-0.048},{"t":2.21,"v":-0.042},{"t":2.235,"v":-0.050},{"t":2.26,"v":-0.045},{"t":2.285,"v":-0.051},{"t":2.31,"v":-0.040},{"t":2.335,"v":-0.049},{"t":2.36,"v":-0.044},{"t":2.385,"v":-0.052},{"t":2.41,"v":-0.041},{"t":2.435,"v":-0.048},{"t":2.46,"v":-0.043},{"t":2.485,"v":-0.050},{"t":2.51,"v":-0.040},{"t":2.535,"v":-0.051},{"t":2.56,"v":-0.042},{"t":2.585,"v":-0.049},{"t":2.61,"v":-0.045},{"t":2.635,"v":-0.052},{"t":2.66,"v":-0.041},{"t":2.685,"v":-0.048},{"t":2.71,"v":-0.043},{"t":2.735,"v":-0.050},{"t":2.76,"v":-0.040},{"t":2.785,"v":-0.051},{"t":2.81,"v":-0.044},{"t":2.835,"v":-0.049},{"t":2.86,"v":-0.042},{"t":2.885,"v":-0.052},{"t":2.91,"v":-0.041},{"t":2.935,"v":-0.048},{"t":2.96,"v":-0.045},{"t":2.985,"v":-0.050},{"t":3.01,"v":-0.040},{"t":3.035,"v":-0.051},{"t":3.06,"v":-0.043},{"t":3.085,"v":-0.049},
      {"t":3.11,"v":-0.044},{"t":3.135,"v":-0.036},{"t":3.16,"v":-0.045},{"t":3.185,"v":-0.035},{"t":3.21,"v":-0.044},{"t":3.235,"v":-0.037},{"t":3.26,"v":-0.046},{"t":3.285,"v":-0.036},{"t":3.31,"v":-0.043},{"t":3.335,"v":-0.035},{"t":3.36,"v":-0.045},{"t":3.385,"v":-0.037},{"t":3.41,"v":-0.044},{"t":3.435,"v":-0.036},{"t":3.46,"v":-0.046},{"t":3.485,"v":-0.035},{"t":3.51,"v":-0.043},{"t":3.535,"v":-0.037},{"t":3.56,"v":-0.045},{"t":3.585,"v":-0.036},{"t":3.6,"v":-0.041}
    ]
  },
  "layer": [
    {
      "encoding": {
        "x": {
          "field": "t",
          "type": "quantitative",
          "title": "t [s]",
          "scale": {"domain": [0, 3.6], "nice": false, "zero": false},
          "axis": {"values": [0.1, 3.1], "format": ".1f"}
        },
        "y": {
          "field": "v",
          "type": "quantitative",
          "title": "I [nA]",
          "scale": {"domain": [-0.56, 0.1615], "nice": false, "zero": false},
          "axis": {
            "values": [-0.4, -0.2, 0],
            "labelExpr": "datum.value == 0 ? '0' : replace(format(datum.value, '.1f'), '\u2212', '-')"
          }
        }
      },
      "layer": [
        {"data": {"name": "a"}, "mark": {"type": "line"}},
        {"data": {"name": "b"}, "mark": {"type": "line"}},
        {"data": {"name": "c"}, "mark": {"type": "line"}},
        {"data": {"name": "d"}, "mark": {"type": "line"}},
        {"data": {"name": "e"}, "mark": {"type": "line"}},
        {"data": {"name": "f"}, "mark": {"type": "line"}},
        {"data": {"name": "g"}, "mark": {"type": "line"}},
        {"data": {"name": "h"}, "mark": {"type": "line"}},
        {"data": {"name": "i"}, "mark": {"type": "line"}},
        {"data": {"name": "j"}, "mark": {"type": "line"}}
      ]
    },
    {
      "data": {"values": [{"note": "25 °C\u00a0 Activation"}]},
      "mark": {"type": "text", "align": "right", "baseline": "alphabetic", "font": "DejaVu Sans", "fontSize": 19, "color": "#000000"},
      "encoding": {
        "x": {"datum": 3.6, "type": "quantitative", "title": "t [s]"},
        "y": {"datum": 0.155, "type": "quantitative", "title": "I [nA]"},
        "text": {"field": "note"}
      }
    },
    {
      "data": {"values": [{"note": "BBP Channelpedia ID 34895 rep 3"}]},
      "mark": {"type": "text", "align": "center", "baseline": "middle", "angle": 270, "font": "DejaVu Sans", "fontSize": 12.5, "color": "#000000"},
      "encoding": {
        "x": {"datum": 3.665, "type": "quantitative", "title": "t [s]"},
        "y": {"datum": -0.211, "type": "quantitative", "title": "I [nA]"},
        "text": {"field": "note"}
      }
    }
  ],
  "config": {
    "view": {"stroke": null},
    "font": "DejaVu Sans",
    "line": {"color": "#000000", "strokeWidth": 1.7},
    "axis": {
      "grid": false,
      "domainColor": "#262626",
      "domainWidth": 0.8,
      "tickColor": "#262626",
      "tickWidth": 0.8,
      "tickSize": -7,
      "labelColor": "#262626",
      "labelFont": "DejaVu Sans",
      "labelFontSize": 20,
      "titleColor": "#262626",
      "titleFont": "DejaVu Sans",
      "titleFontSize": 22,
      "titleFontWeight": "normal"
    },
    "axisX": {"labelPadding": 21, "titlePadding": 8},
    "axisY": {"labelPadding": 17, "titlePadding": 10}
  }
}
